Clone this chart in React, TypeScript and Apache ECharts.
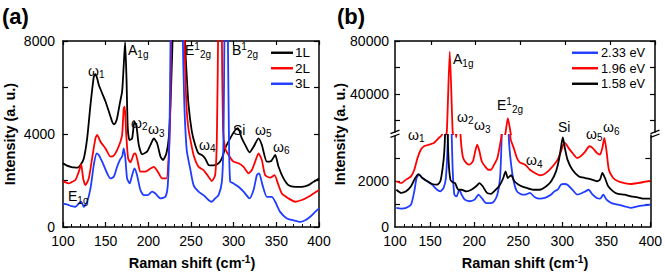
import React, { useEffect, useRef } from "react";
import * as echarts from "echarts";

type Pt = [number, number];

const FONT = '"Liberation Sans", Arial, Helvetica, sans-serif';
const BLACK = "#000000";
const RED = "#ff0000";
const BLUE = "#1f3cff";

// ---------- Panel (a) ----------
const aSeriesNames = ["1L", "2L", "3L"];
const aXMin = 100;
const aXMax = 400;
const aYMax = 8000;

const a1L: Pt[] = [
  [100, 2740], [104, 2650], [109, 2590], [113, 2560], [117, 2550], [120.5, 2670], [124.4, 2950],
  [128.3, 3810], [132.2, 5250], [136.1, 6470], [138, 6570], [140, 6400], [142, 6110], [145.9, 5750],
  [149.8, 5400], [153.7, 4970], [157.6, 4530], [159.5, 4420], [161.5, 4480], [163.4, 4680],
  [166.6, 5320], [169.3, 5830], [171.2, 6970], [172.8, 7950], [174.4, 6400], [175.9, 4250],
  [177.9, 3740], [181, 3810], [183.7, 4530], [186, 4360], [188.8, 3530], [192.7, 3130],
  [198.5, 3240], [202.5, 3530], [206.4, 3810], [210.3, 3600], [214.2, 3030], [217.3, 2880],
  [221.2, 3170], [223.9, 3810], [225.9, 5250], [227.9, 7400], [229.5, 10000], [233, 25000],
  [238, 25000], [241, 12000], [243, 8000], [245, 6500], [247.1, 5250], [251, 4100], [254.9, 3530],
  [258.8, 3170], [262.7, 3100], [266.6, 2950], [270.5, 2670], [276.4, 2650], [282.3, 2740],
  [286.2, 2950], [290, 3380], [295.9, 3810], [301.8, 4170], [304.9, 4250], [309.6, 3810],
  [313.5, 3530], [318.6, 3210], [323.3, 3450], [329.1, 3810], [333, 3530], [338.9, 2810],
  [344, 2840], [348.7, 3100], [352.6, 2590], [358.4, 2090], [364.3, 1800], [372.1, 1730],
  [379.9, 1730], [387.7, 1800], [393.6, 1945], [400, 2090],
];

const a2L: Pt[] = [
  [100, 1975], [103, 1920], [106.8, 1875], [110, 1930], [114.6, 2020], [118.5, 2380], [121.3, 2690],
  [123.6, 2090], [126.3, 1800], [130.2, 2090], [134.1, 2950], [138, 3810], [140, 3960], [143.9, 3670],
  [149.8, 3380], [155.6, 3030], [159.5, 3070], [163.4, 3310], [167.3, 3670], [169.3, 3960],
  [171.2, 5110], [172.4, 5180], [173.9, 4100], [176.3, 2950], [179, 2780], [182.9, 3130],
  [184.9, 3170], [187.6, 2810], [190.7, 2380], [196.6, 2380], [202.5, 2520], [206.4, 2590],
  [211.1, 2380], [216.1, 2090], [221.2, 2090], [223.9, 3100], [225.9, 5250], [227, 9000],
  [231, 25000], [237, 25000], [241, 12000], [243, 7000], [245, 5000], [247.1, 4200], [249, 3810],
  [253, 3100], [258.8, 2590], [264.7, 2450], [270.5, 2160], [274.4, 1975], [278.3, 2230],
  [280.3, 3810], [282, 9000], [284.5, 20000], [286, 9000], [287.5, 4200], [290, 3400], [294, 3100],
  [299.8, 2810], [305.7, 2740], [311.6, 2590], [317.4, 2310], [321.3, 2450], [325.2, 2810],
  [329.1, 3170], [333, 2880], [336.9, 2230], [342.8, 2120], [347.9, 2230], [351.8, 1875],
  [356.5, 1440], [364.3, 1230], [372.1, 1085], [379.9, 1160], [387.7, 1300], [393.6, 1440],
  [400, 1590],
];

const a3L: Pt[] = [
  [100, 1010], [103, 980], [106.8, 940], [110, 900], [114.6, 870], [118.5, 1010], [121.3, 1085],
  [124.4, 870], [128.3, 1085], [132.2, 1660], [136.1, 2670], [139.3, 3170], [142, 3100],
  [145.9, 2810], [151.7, 2310], [155.6, 2090], [159.5, 2160], [163.4, 2590], [166.6, 2880],
  [169.3, 3030], [171.2, 3380], [173.1, 2950], [175.1, 2090], [178.2, 1875], [181, 2230],
  [183.7, 2520], [186.8, 2230], [190.7, 1590], [194.6, 1370], [199.3, 1370], [204.4, 1520],
  [208.3, 1440], [214.2, 1230], [220, 1300], [222.8, 1800], [224.7, 3810], [226, 8000],
  [229, 25000], [236, 25000], [240, 9000], [242, 5500], [245, 3300], [249, 2520], [253, 1800],
  [258.8, 1520], [264.7, 1370], [270.5, 1160], [274.4, 1085], [278.3, 1230], [282.3, 1370],
  [286.2, 1950], [288.1, 3810], [289.3, 9000], [291, 20000], [293, 9000], [294.5, 3810],
  [295.9, 1950], [299.8, 1875], [305.7, 1730], [311.6, 1520], [318.6, 1230], [323.3, 1590],
  [327.2, 2230], [329.9, 2310], [333.8, 1800], [338.9, 1300], [344.8, 1300], [348.7, 1085],
  [354.5, 650], [362.3, 370], [370.1, 290], [378, 220], [383.8, 290], [389.7, 440], [395.5, 650],
  [400, 800],
];

// ---------- Panel (b) ----------
const bSeriesNames = ["2.33 eV", "1.96 eV", "1.58 eV"];
const bXMin = 110;
const bXMax = 400;
const bXLabelValues = [110, 150, 200, 250, 300, 350, 400];
const bXLabelTexts = ["100", "150", "200", "250", "300", "350", "400"];
const bXMajorTicks = [150, 200, 250, 300, 350, 400];
const bXMinorTicks = [
  120, 130, 140, 160, 170, 180, 190, 210, 220, 230, 240, 260, 270, 280, 290,
  310, 320, 330, 340, 360, 370, 380, 390,
];
const bUpperMin = 10000;
const bUpperMax = 80000;
const bUpperLabels = [40000, 80000];
const bUpperTicks = [20000, 40000, 60000, 80000];
const bLowerMax = 4000;
const bLowerLabels = [0, 2000];
const bLowerTicks = [1000, 2000, 3000];

const b233: Pt[] = [
  [111.5, 830], [117.1, 800], [122.6, 830], [128.2, 970], [131.9, 1550], [134.5, 2130], [137.4, 2280],
  [141.1, 2130], [146.7, 1990], [152.2, 1840], [157.8, 1620], [161.5, 1550], [165.2, 1700],
  [167.8, 2130], [170, 3870], [171.5, 8000], [173, 6000], [174.5, 3870], [175.6, 2420],
  [177.4, 1410], [180, 1330], [183, 1620], [185.6, 1410], [189.3, 1190], [194.8, 1120],
  [200.4, 1190], [204.8, 1410], [208.5, 1260], [213.4, 1040], [218.9, 1040], [222.6, 1120],
  [226.3, 1410], [229.3, 2130], [231.1, 3870], [233, 7500], [237, 7500], [239.3, 3870],
  [241.9, 2710], [244.8, 1990], [248.5, 1550], [254.1, 1410], [257.8, 1410], [263.3, 1480],
  [268.9, 1290], [274.4, 1230], [281.8, 1290], [287.4, 1410], [291.1, 1550], [294.8, 1620],
  [298.5, 1840], [302.2, 1870], [305.9, 1840], [311.5, 1620], [317, 1410], [322.6, 1480],
  [326.3, 1550], [330, 1620], [333.7, 1440], [339.2, 1260], [342.9, 1230], [346.6, 1410],
  [350.3, 1190], [355.9, 1040], [363.3, 970], [370.7, 900], [378.1, 830], [385.5, 900],
  [392.9, 940], [400, 970],
];

const b196: Pt[] = [
  [111.5, 1990], [117.1, 1910], [122.6, 2060], [128.2, 2200], [131.9, 2490], [135.6, 3000],
  [139.3, 3360], [143, 3510], [148.5, 3580], [154.1, 3650], [159.7, 3870], [163.4, 4010],
  [165.5, 6000], [167.8, 12000], [171.1, 72000], [174.3, 12000], [176, 6000], [178, 4500],
  [179.5, 3900], [181, 4500], [183, 5000], [184.5, 3950], [185.6, 3440], [187.4, 3000],
  [191.1, 2780], [194.8, 2710], [198.5, 2860], [201.1, 3290], [203.4, 3580], [205.9, 3290],
  [208.5, 2860], [212.2, 2640], [215.9, 2490], [218.9, 2490], [222.6, 2710], [226.3, 3000],
  [229.3, 3580], [231.1, 4010], [233.3, 11000], [235.9, 22000], [238.9, 11000], [241.1, 3870],
  [244.8, 3440], [248.5, 3000], [252, 2800], [257.8, 2710], [263.3, 2490], [268.9, 2350],
  [274.4, 2250], [278.1, 2270], [283.7, 2420], [289.2, 2640], [294.8, 2930], [298.5, 3290],
  [301.1, 3580], [303.3, 3650], [307, 3440], [311.5, 3220], [317, 3000], [320.7, 3070],
  [326.3, 3290], [330.7, 3510], [334.4, 3440], [339.2, 3220], [342.9, 3150], [345.5, 3440],
  [347.8, 3870], [350.3, 3290], [352.9, 2490], [357.8, 2130], [363.3, 1990], [370.7, 1910],
  [378.1, 1870], [385.5, 1910], [392.9, 1960], [400, 2010],
];

const b158: Pt[] = [
  [111.5, 1620], [117.1, 1480], [122.6, 1550], [128.2, 1770], [133, 2130], [136.7, 2300],
  [141.1, 2130], [146.7, 1990], [152.2, 1870], [157.8, 1840], [161.5, 1990], [164.1, 2560],
  [166, 3290], [167.2, 4500], [168.3, 7000], [169.5, 4500], [171, 2800], [173, 2050],
  [175.5, 1950], [178.2, 1910], [181.9, 1620], [185.6, 1620], [191.1, 1550], [196.7, 1620],
  [202.2, 1770], [205.9, 1910], [209.6, 1770], [214.5, 1480], [218.9, 1440], [224.5, 1620],
  [229.3, 1840], [233, 2130], [235.6, 2420], [238.2, 2130], [241.9, 2250], [245.6, 1990],
  [250.4, 1840], [254.1, 1770], [259.6, 1700], [267, 1620], [274.4, 1620], [281.8, 1770],
  [287.4, 1990], [292.9, 2420], [296.6, 3000], [299.6, 3720], [300.7, 3900], [302.9, 3440],
  [305.9, 2930], [311.5, 2490], [318.9, 2200], [326.3, 2130], [333.7, 2060], [339.2, 1990],
  [342.9, 2060], [345.5, 2350], [348.5, 2130], [352.2, 1770], [357.8, 1550], [363.3, 1440],
  [370.7, 1410], [378.1, 1330], [385.5, 1290], [392.9, 1230], [400, 1230],
];

// ---------- helpers ----------
const axisLine = { show: true, onZero: false, lineStyle: { color: "#000", width: 1.5 } };
const tickStyle = { color: "#000", width: 1.2 };
const labelStyle = { color: "#000", fontSize: 14, fontFamily: FONT, formatter: (v: number) => String(v) };

const richStyles = {
  b: { fontSize: 14, lineHeight: 18, fontFamily: FONT, fill: "#000" },
  sub: { fontSize: 10, lineHeight: 11, fontFamily: FONT, fill: "#000", verticalAlign: "bottom" },
  sup: { fontSize: 10, lineHeight: 11, fontFamily: FONT, fill: "#000", verticalAlign: "top" },
};

function ann(x: number, y: number, base: string, sub?: string, sup?: string) {
  let t = `{b|${base}}`;
  if (sup) t += `{sup|${sup}}`;
  if (sub) t += `{sub|${sub}}`;
  return {
    type: "text",
    z: 50,
    style: {
      text: t,
      x,
      y,
      textAlign: "left",
      textVerticalAlign: "middle",
      fill: "#000",
      rich: richStyles,
    },
  };
}

function breakMark(X: number) {
  return [
    { type: "rect", z: 60, shape: { x: X - 3, y: 132.6, width: 6, height: 3.2 }, style: { fill: "#fff" } },
    { type: "line", z: 61, shape: { x1: X - 4.5, y1: 133.6, x2: X + 4.5, y2: 130.2 }, style: { stroke: "#000", lineWidth: 1.3 } },
    { type: "line", z: 61, shape: { x1: X - 4.5, y1: 137.4, x2: X + 4.5, y2: 134.0 }, style: { stroke: "#000", lineWidth: 1.3 } },
  ];
}

function lineSeries(name: string, data: Pt[], color: string, xi: number, yi: number) {
  return {
    type: "line",
    name,
    data,
    xAxisIndex: xi,
    yAxisIndex: yi,
    showSymbol: false,
    symbol: "none",
    smooth: 0.2,
    clip: true,
    lineStyle: { color, width: 1.8 },
    itemStyle: { color },
  };
}

function buildOption() {
  const graphic: any[] = [
    { type: "text", style: { text: "(a)", x: 2, y: 16, fontSize: 22, fontWeight: "bold", fontFamily: FONT, fill: "#000", textVerticalAlign: "middle" } },
    { type: "text", style: { text: "(b)", x: 337, y: 16, fontSize: 22, fontWeight: "bold", fontFamily: FONT, fill: "#000", textVerticalAlign: "middle" } },
    {
      type: "text", x: 10, y: 134, rotation: Math.PI / 2,
      style: { text: "Intensity (a. u.)", x: 0, y: 0, fontSize: 14.5, fontWeight: "bold", fontFamily: FONT, fill: "#000", textAlign: "center", textVerticalAlign: "middle" },
    },
    {
      type: "text", x: 340, y: 134, rotation: Math.PI / 2,
      style: { text: "Intensity (a. u.)", x: 0, y: 0, fontSize: 14.5, fontWeight: "bold", fontFamily: FONT, fill: "#000", textAlign: "center", textVerticalAlign: "middle" },
    },
  ];
  const xName = (cx: number) => ({
    type: "text",
    style: {
      text: "{n|Raman shift (cm}{s|-1}{n|)}",
      x: cx, y: 263, textAlign: "center", textVerticalAlign: "middle", fill: "#000",
      rich: {
        n: { fontSize: 14.5, fontWeight: "bold", fontFamily: FONT, lineHeight: 18, fill: "#000" },
        s: { fontSize: 10, fontWeight: "bold", fontFamily: FONT, lineHeight: 12, verticalAlign: "top", fill: "#000" },
      },
    },
  });
  graphic.push(xName(192), xName(525));

  // panel (a) annotations
  graphic.push(
    ann(88, 70.5, "ω", "1"),
    ann(128, 50, "A", "1g"),
    ann(185, 50, "E", "2g", "1"),
    ann(232, 50, "B", "2g", "1"),
    ann(131, 122.5, "ω", "2"),
    ann(148, 129, "ω", "3"),
    ann(233, 130, "Si"),
    ann(255, 129.5, "ω", "5"),
    ann(199, 144.5, "ω", "4"),
    ann(273, 146.5, "ω", "6"),
    ann(68, 196, "E", "1g")
  );
  // panel (b) annotations
  graphic.push(
    ann(453, 59, "A", "1g"),
    ann(457, 116.5, "ω", "2"),
    ann(474, 125, "ω", "3"),
    ann(497, 105, "E", "2g", "1"),
    ann(558, 127, "Si"),
    ann(586, 133.5, "ω", "5"),
    ann(603, 127, "ω", "6"),
    ann(408, 134.5, "ω", "1"),
    ann(526, 160, "ω", "4")
  );
  graphic.push(...breakMark(395), ...breakMark(655));

  const tickA = { show: true, inside: true, length: 5, lineStyle: tickStyle };

  return {
    animation: false,
    backgroundColor: "#ffffff",
    textStyle: { fontFamily: FONT },
    grid: [
      { left: 63, top: 41, width: 256, height: 186 },
      { left: 395, top: 41, width: 260, height: 93 },
      { left: 395, top: 135, width: 260, height: 92 },
    ],
    xAxis: [
      {
        type: "value", gridIndex: 0, position: "bottom", min: aXMin, max: aXMax, interval: 50,
        axisLine, axisTick: tickA,
        minorTick: { show: true, splitNumber: 5, length: 3, lineStyle: { color: "#000", width: 1 } },
        axisLabel: { ...labelStyle, margin: 7 },
        splitLine: { show: false }, minorSplitLine: { show: false },
      },
      {
        type: "value", gridIndex: 0, position: "top", min: aXMin, max: aXMax, interval: 50,
        axisLine, axisTick: { ...tickA, length: 4 }, axisLabel: { show: false }, splitLine: { show: false },
      },
      {
        type: "value", gridIndex: 1, position: "top", min: bXMin, max: bXMax,
        axisLine, axisTick: { ...tickA, length: 4, customValues: bXMajorTicks },
        axisLabel: { show: false }, splitLine: { show: false },
      },
      {
        type: "value", gridIndex: 2, position: "bottom", min: bXMin, max: bXMax,
        axisLine, axisTick: { ...tickA, customValues: bXMajorTicks },
        axisLabel: {
          ...labelStyle, margin: 7, customValues: bXLabelValues,
          formatter: (v: number) => bXLabelTexts[bXLabelValues.indexOf(v)] ?? String(v),
        },
        splitLine: { show: false },
      },
      {
        type: "value", gridIndex: 2, position: "bottom", min: bXMin, max: bXMax,
        axisLine: { show: false }, axisTick: { show: true, inside: true, length: 3, lineStyle: { color: "#000", width: 1 }, customValues: bXMinorTicks },
        axisLabel: { show: false }, splitLine: { show: false },
      },
    ],
    yAxis: [
      {
        type: "value", gridIndex: 0, position: "left", min: 0, max: aYMax, interval: 4000,
        axisLine, axisTick: tickA,
        minorTick: { show: true, splitNumber: 2, length: 5, lineStyle: tickStyle },
        axisLabel: { ...labelStyle, margin: 8 },
        splitLine: { show: false }, minorSplitLine: { show: false },
      },
      {
        type: "value", gridIndex: 0, position: "right", min: 0, max: aYMax, interval: 4000,
        axisLine, axisTick: tickA,
        minorTick: { show: true, splitNumber: 2, length: 5, lineStyle: tickStyle },
        axisLabel: { show: false }, splitLine: { show: false }, minorSplitLine: { show: false },
      },
      {
        type: "value", gridIndex: 1, position: "left", min: bUpperMin, max: bUpperMax,
        axisLine, axisTick: { ...tickA, customValues: bUpperTicks },
        axisLabel: { ...labelStyle, margin: 6, customValues: bUpperLabels },
        splitLine: { show: false },
      },
      {
        type: "value", gridIndex: 1, position: "right", min: bUpperMin, max: bUpperMax,
        axisLine, axisTick: { ...tickA, customValues: bUpperTicks },
        axisLabel: { show: false }, splitLine: { show: false },
      },
      {
        type: "value", gridIndex: 2, position: "left", min: 0, max: bLowerMax,
        axisLine, axisTick: { ...tickA, customValues: bLowerTicks },
        axisLabel: { ...labelStyle, margin: 6, customValues: bLowerLabels },
        splitLine: { show: false },
      },
      {
        type: "value", gridIndex: 2, position: "right", min: 0, max: bLowerMax,
        axisLine, axisTick: { ...tickA, customValues: bLowerTicks },
        axisLabel: { show: false }, splitLine: { show: false },
      },
    ],
    legend: [
      {
        data: aSeriesNames, orient: "vertical", left: 271, top: 45, padding: 0,
        icon: "rect", itemWidth: 22, itemHeight: 2.4, itemGap: 0, selectedMode: false,
        textStyle: { fontSize: 13.5, lineHeight: 15.5, fontFamily: FONT, color: "#000", padding: [0, 0, 0, -3] },
      },
      {
        data: bSeriesNames, orient: "vertical", left: 572, top: 45, padding: 0,
        icon: "rect", itemWidth: 26, itemHeight: 2.4, itemGap: 0, selectedMode: false,
        textStyle: { fontSize: 12.8, lineHeight: 15.5, fontFamily: FONT, color: "#000", padding: [0, 0, 0, -2] },
      },
    ],
    graphic,
    series: [
      lineSeries(aSeriesNames[0], a1L, BLACK, 0, 0),
      lineSeries(aSeriesNames[1], a2L, RED, 0, 0),
      lineSeries(aSeriesNames[2], a3L, BLUE, 0, 0),
      lineSeries(bSeriesNames[0], b233, BLUE, 2, 2),
      lineSeries(bSeriesNames[1], b196, RED, 2, 2),
      lineSeries(bSeriesNames[2], b158, BLACK, 2, 2),
      lineSeries(bSeriesNames[0], b233, BLUE, 3, 4),
      lineSeries(bSeriesNames[1], b196, RED, 3, 4),
      lineSeries(bSeriesNames[2], b158, BLACK, 3, 4),
    ],
  };
}

export default function App() {
  const ref = useRef<HTMLDivElement>(null);
  useEffect(() => {
    if (!ref.current) return;
    const chart = echarts.init(ref.current, undefined, { renderer: "svg" });
    chart.setOption(buildOption() as any);
    return () => chart.dispose();
  }, []);
  return (
    <div
      ref={ref}
      style={{ position: "fixed", left: 0, top: 0, width: 665, height: 272, background: "#fff" }}
    />
  );
}
